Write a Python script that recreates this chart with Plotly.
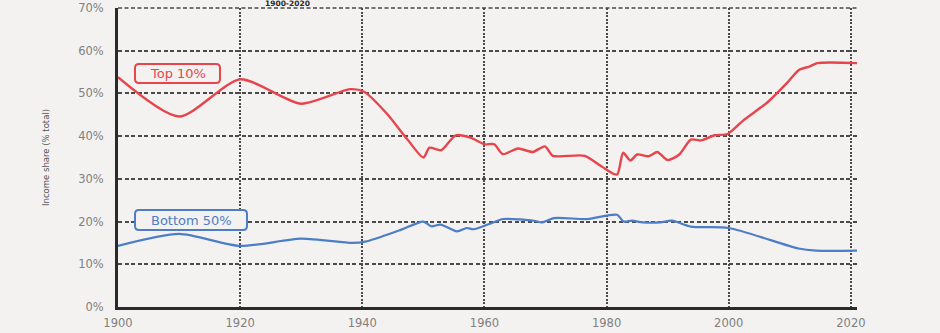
import plotly.graph_objects as go

# ---- data ----
top10_years = [1900, 1910, 1920, 1930, 1938, 1940.3, 1944, 1947.4, 1950, 1951, 1952.9,
               1955.3, 1957.8, 1960, 1961.6, 1963, 1965.5, 1967.9, 1969.9, 1971.2, 1976.4,
               1979.2, 1981.7, 1982.7, 1983.9, 1985, 1986.9, 1988.3, 1990, 1991.9, 1993.8,
               1995.5, 1997.7, 1999.8, 2002.4, 2006.4, 2009.5, 2011.5, 2013.2, 2014.5, 2021]
top10_share = [53.8, 44.6, 53.3, 47.6, 51.0, 50.4, 45.3, 39.2, 35.0, 37.3, 36.7,
               40.2, 39.6, 38.1, 38.1, 35.8, 37.1, 36.3, 37.6, 35.4, 35.4,
               32.9, 31.0, 36.1, 34.3, 35.7, 35.3, 36.3, 34.4, 35.7, 39.2,
               39.0, 40.2, 40.5, 43.7, 48.0, 52.4, 55.5, 56.3, 57.1, 57.1]

bottom50_years = [1900, 1910, 1920, 1930, 1938.4, 1940.5, 1946, 1950, 1951.3, 1952.8,
                  1955.5, 1957.1, 1958.2, 1960.9, 1963.1, 1968.1, 1969.4, 1971.4, 1976.9,
                  1981.7, 1982.8, 1984.2, 1985.9, 1988.8, 1990.7, 1993.8, 2000, 2011.4,
                  2014.3, 2021]
bottom50_share = [14.3, 17.1, 14.3, 16.0, 15.0, 15.3, 17.9, 20.0, 18.9, 19.3,
                  17.7, 18.5, 18.2, 19.5, 20.6, 20.2, 19.8, 20.8, 20.6,
                  21.6, 20.0, 20.2, 19.8, 19.8, 20.2, 18.8, 18.5, 13.7,
                  13.2, 13.2]

x_ticks = [1900, 1920, 1940, 1960, 1980, 2000, 2020]
y_ticks = [0, 10, 20, 30, 40, 50, 60, 70]

series_names = ["Top 10%", "Bottom 50%"]
title_text = "1900-2020"
y_title = "Income share (% total)"

# ---- layout geometry ----
W, H = 940, 333
ML, MR, MT, MB = 118, 83, 8, 26
PW, PH = W - ML - MR, H - MT - MB

RED = "#e8444c"
BLUE = "#4d7dc6"
BG = "#f3f2f0"
GRID = "#4a4a4a"


def px(x):
    return (x - ML) / PW


def py(y):
    return 1 - (y - MT) / PH


def rounded_box(x0, y0, x1, y1, r, color):
    rx, ry = r / PW, r / PH
    X0, X1 = px(x0), px(x1)
    Yt, Yb = py(y0), py(y1)
    path = (f"M {X0+rx},{Yt} L {X1-rx},{Yt} Q {X1},{Yt} {X1},{Yt-ry} "
            f"L {X1},{Yb+ry} Q {X1},{Yb} {X1-rx},{Yb} "
            f"L {X0+rx},{Yb} Q {X0},{Yb} {X0},{Yb+ry} "
            f"L {X0},{Yt-ry} Q {X0},{Yt} {X0+rx},{Yt} Z")
    return dict(type="path", path=path, xref="paper", yref="paper",
                line=dict(color=color, width=2), fillcolor=BG, layer="above")


fig = go.Figure()
fig.add_trace(go.Scatter(x=top10_years, y=top10_share, mode="lines", name=series_names[0],
                         line=dict(color=RED, width=2.4, shape="spline", smoothing=0.7),
                         hoverinfo="skip"))
fig.add_trace(go.Scatter(x=bottom50_years, y=bottom50_share, mode="lines", name=series_names[1],
                         line=dict(color=BLUE, width=2.2, shape="spline", smoothing=0.7),
                         hoverinfo="skip"))

font_fam = "DejaVu Sans"
# top gridline at the range edge (Plotly omits the one on the boundary)
top_grid = dict(type="line", xref="paper", yref="paper", x0=0, x1=1, y0=1, y1=1,
                line=dict(color=GRID, width=1.5, dash="4px,2.5px"), layer="below")

fig.update_layout(
    width=W, height=H,
    margin=dict(l=ML, r=MR, t=MT, b=MB, pad=0, autoexpand=False),
    paper_bgcolor=BG, plot_bgcolor=BG,
    showlegend=False,
    font=dict(family=font_fam, color="#777777", size=11),
    xaxis=dict(range=[1900, 2021], tickvals=x_ticks, ticktext=[str(v) for v in x_ticks],
               showgrid=True, gridcolor=GRID, gridwidth=2, griddash="2px,1.5px",
               showline=True, linecolor="#2a2a2a", linewidth=2.5, automargin=False,
               ticks="", ticklabelstandoff=3, zeroline=False,
               tickfont=dict(size=11.5, color="#808080")),
    yaxis=dict(range=[0, 70], tickvals=y_ticks, ticktext=[f"{v}%" for v in y_ticks],
               showgrid=True, gridcolor=GRID, gridwidth=1.5, griddash="4px,2.5px",
               showline=True, linecolor="#2a2a2a", linewidth=3, automargin=False,
               ticks="", ticklabelstandoff=9, zeroline=False,
               tickfont=dict(size=11.5, color="#808080")),
    shapes=[top_grid,
            rounded_box(135, 64, 220, 83, 4, RED),
            rounded_box(135, 210, 247, 230, 4, BLUE)],
    annotations=[
        dict(text=series_names[0], xref="paper", yref="paper", x=px(177.5), y=py(73.5),
             showarrow=False, font=dict(family=font_fam, size=13, color=RED),
             xanchor="center", yanchor="middle"),
        dict(text=series_names[1], xref="paper", yref="paper", x=px(191), y=py(220),
             showarrow=False, font=dict(family=font_fam, size=13, color=BLUE),
             xanchor="center", yanchor="middle"),
        dict(text=y_title, xref="paper", yref="paper", x=px(46), y=py(158),
             showarrow=False, textangle=-90, font=dict(family=font_fam, size=8.5, color="#555555"),
             xanchor="center", yanchor="middle"),
        dict(text=f"<b>{title_text}</b>", xref="paper", yref="paper", x=px(287), y=py(9),
             showarrow=False, font=dict(family=font_fam, size=7.5, color="#2a2a2a"),
             xanchor="center", yanchor="bottom", borderpad=0),
    ],
)

fig.write_html("out.html")
